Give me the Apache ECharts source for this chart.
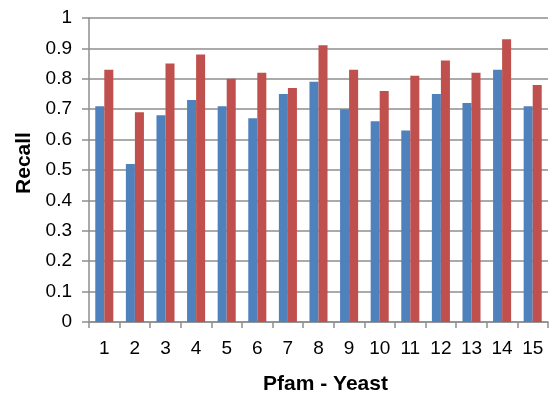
<!DOCTYPE html>
<html><head><meta charset="utf-8">
<script src="https://cdn.jsdelivr.net/npm/echarts@6/dist/echarts.min.js"></script>
<style>html,body{margin:0;padding:0;background:#fff}#c{width:551px;height:399px}</style>
</head><body><div id="c"></div>
<script>
const categories = ['1','2','3','4','5','6','7','8','9','10','11','12','13','14','15'];
const seriesA = [0.71,0.52,0.68,0.73,0.71,0.67,0.75,0.79,0.70,0.66,0.63,0.75,0.72,0.83,0.71];
const seriesB = [0.83,0.69,0.85,0.88,0.80,0.82,0.77,0.91,0.83,0.76,0.81,0.86,0.82,0.93,0.78];
const chart = echarts.init(document.getElementById('c'), null, {renderer:'canvas'});
const font = 'Liberation Sans, Arial, Helvetica, sans-serif';
chart.setOption({
  animation:false,
  grid:{left:89,right:3,top:18,bottom:77,containLabel:false,outerBoundsMode:'none'},
  xAxis:{type:'category',data:categories,
    axisLine:{lineStyle:{color:'#8e8e8e',width:1.5}},
    axisTick:{show:true,length:6,lineStyle:{color:'#8e8e8e',width:1.5},alignWithLabel:false},
    axisLabel:{color:'#000',fontSize:19,fontFamily:font,margin:17},
    name:'Pfam - Yeast',nameLocation:'middle',nameGap:52,
    nameTextStyle:{color:'#000',fontSize:21,fontWeight:'bold',fontFamily:font,padding:[0,0,0,14]}},
  yAxis:{type:'value',min:0,max:1,interval:0.1,
    axisLine:{show:true,lineStyle:{color:'#8e8e8e',width:1.5}},
    axisTick:{show:true,length:7,lineStyle:{color:'#8e8e8e',width:1.5}},
    splitLine:{lineStyle:{color:'#8e8e8e',width:1.5}},
    axisLabel:{color:'#000',fontSize:19,fontFamily:font,margin:17,
      formatter:v=>String(Math.round(v*10)/10)},
    name:'Recall',nameLocation:'middle',nameGap:52,
    nameTextStyle:{color:'#000',fontSize:21,fontWeight:'bold',fontFamily:font,padding:[0,0,0,14]}},
  series:[
    {type:'bar',data:seriesA,barGap:'0%',barCategoryGap:'41%',itemStyle:{color:'#4F81BD'}},
    {type:'bar',data:seriesB,barGap:'0%',barCategoryGap:'41%',itemStyle:{color:'#C0504D'}}
  ]
});
</script></body></html>
